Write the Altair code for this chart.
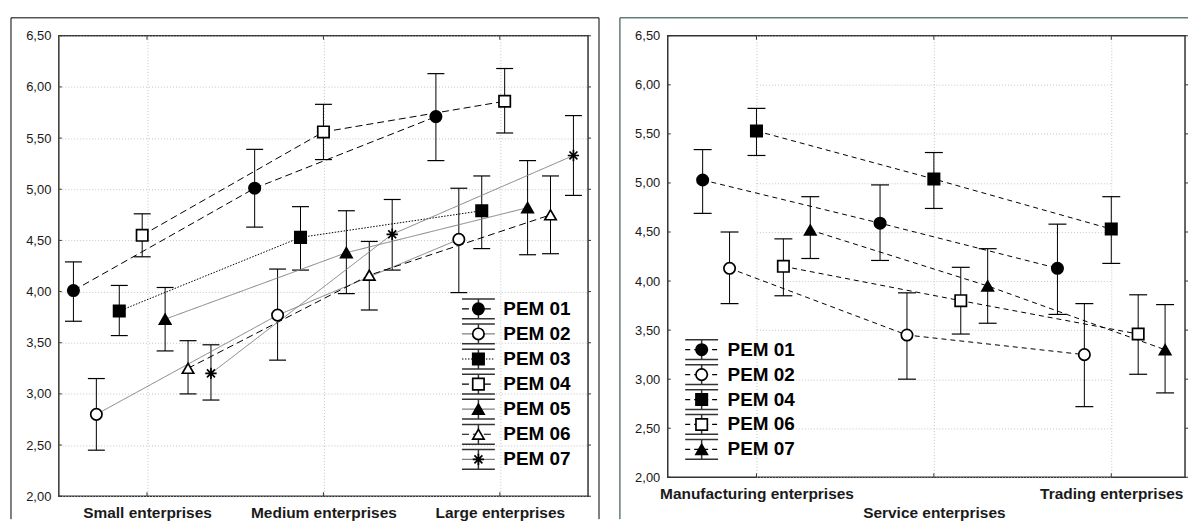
import altair as alt
import pandas as pd

# ---------------- data: left panel (enterprise size) ----------------
cats_L = ["Small enterprises", "Medium enterprises", "Large enterprises"]
series_L = ["PEM 01", "PEM 02", "PEM 03", "PEM 04", "PEM 05", "PEM 06", "PEM 07"]
mean_L = [
    [4.01, 5.01, 5.71],
    [2.80, 3.77, 4.51],
    [3.81, 4.53, 4.79],
    [4.55, 5.56, 5.86],
    [3.73, 4.38, 4.82],
    [3.25, 4.16, 4.75],
    [3.20, 4.56, 5.33],
]
lo_L = [
    [3.71, 4.63, 5.28],
    [2.45, 3.33, 3.99],
    [3.57, 4.21, 4.42],
    [4.34, 5.29, 5.55],
    [3.42, 3.98, 4.36],
    [3.00, 3.82, 4.37],
    [2.94, 4.21, 4.94],
]
hi_L = [
    [4.29, 5.39, 6.13],
    [3.15, 4.22, 5.01],
    [4.06, 4.83, 5.13],
    [4.76, 5.83, 6.18],
    [4.04, 4.79, 5.28],
    [3.52, 4.49, 5.13],
    [3.48, 4.90, 5.72],
]

# ---------------- data: right panel (enterprise type) ----------------
cats_R = ["Manufacturing enterprises", "Service enterprises", "Trading enterprises"]
series_R = ["PEM 01", "PEM 02", "PEM 04", "PEM 06", "PEM 07"]
mean_R = [
    [5.03, 4.59, 4.13],
    [4.13, 3.45, 3.25],
    [5.53, 5.04, 4.53],
    [4.15, 3.80, 3.46],
    [4.52, 3.95, 3.30],
]
lo_R = [
    [4.69, 4.21, 3.66],
    [3.77, 3.00, 2.72],
    [5.28, 4.74, 4.18],
    [3.85, 3.46, 3.05],
    [4.23, 3.57, 2.86],
]
hi_R = [
    [5.34, 4.98, 4.58],
    [4.50, 3.88, 3.77],
    [5.76, 5.31, 4.86],
    [4.43, 4.14, 3.86],
    [4.86, 4.33, 3.76],
]

y_ticks = [2.0, 2.5, 3.0, 3.5, 4.0, 4.5, 5.0, 5.5, 6.0, 6.5]

# ---------------- styles ----------------
ASTER = "M-1,0H1M0,-1V1M-0.7,-0.7L0.7,0.7M-0.7,0.7L0.7,-0.7"
CAP = "M-1,0H1"
LEG_CAPS = "M-1,-0.6H1M-1,0.6H1M0,-0.6V0.6"
FONT = "Liberation Sans"
TICK_COLOR = "#333333"

shape_L = ["circle", "circle", "square", "square", "triangle-up", "triangle-up", ASTER]
fill_L = ["black", "white", "black", "white", "black", "white", "black"]
size_L = [130, 130, 130, 130, 130, 130, 190]
dash_L = [[7, 4], [1, 0], [1.5, 1.5], [7, 4], [1, 0], [7, 4], [1, 0]]
color_L = ["black", "#808080", "black", "black", "#808080", "black", "#808080"]

shape_R = ["circle", "circle", "square", "square", "triangle-up"]
fill_R = ["black", "white", "black", "white", "black"]
size_R = [130, 130, 130, 130, 130]
dash_R = [[5, 4]] * 5
color_R = ["black"] * 5


def long_table(cats, series, mean, lo, hi):
    rows = []
    for i, s in enumerate(series):
        for j, c in enumerate(cats):
            rows.append({"series": s, "cat": c, "mean": mean[i][j],
                         "lo": lo[i][j], "hi": hi[i][j]})
    return pd.DataFrame(rows)


def xscale(cats, pad, rng):
    if rng is None:
        return alt.Scale(type="point", padding=pad, domain=cats)
    return alt.Scale(type="point", padding=0, domain=cats, range=rng)


def panel(cats, series, mean, lo, hi, shapes, fills, sizes, dashes, colors,
          width, height, off_half, axis_pad, data_pad, x_range, cap_size,
          leg_range, leg_x, text_x, frame_right, frame_color, side_rule,
          label_expr=None):
    df = long_table(cats, series, mean, lo, hi)
    one = pd.DataFrame({"a": [0]})
    cdf = pd.DataFrame({"cat": cats})
    ydf = pd.DataFrame({"v": y_ticks})

    xaxis_kw = dict(title=None, labelAngle=0, grid=True, labelOverlap=False,
                    labelLineHeight=19, labelLimit=400)
    if label_expr:
        xaxis_kw["labelExpr"] = label_expr
    X_axis = alt.X("cat:N", scale=xscale(cats, axis_pad, x_range),
                   axis=alt.Axis(**xaxis_kw))
    X = alt.X("cat:N", scale=xscale(cats, data_pad, x_range), axis=None)
    XO = alt.XOffset("series:N", scale=alt.Scale(type="point", padding=0,
                                                 domain=series,
                                                 range=[-off_half, off_half]))
    ysc = alt.Scale(domain=[2, 6.5], nice=False, zero=False)
    yax = alt.Axis(title=None, values=y_ticks, grid=True,
                   labelExpr="replace(format(datum.value, '.2f'), '.', ',')")

    shape_enc = alt.Shape("series:N", scale=alt.Scale(domain=series, range=shapes), legend=None)
    fill_enc = alt.Fill("series:N", scale=alt.Scale(domain=series, range=fills), legend=None)
    size_enc = alt.Size("series:N", scale=alt.Scale(domain=series, range=sizes), legend=None)
    color_enc = alt.Color("series:N", scale=alt.Scale(domain=series, range=colors), legend=None)
    dash_enc = alt.StrokeDash("series:N", scale=alt.Scale(domain=series, range=dashes), legend=None)

    # frame around the panel (runs off the bottom of the picture)
    fr = alt.Chart(one).mark_rule(color=frame_color, strokeWidth=1)
    frames = [
        fr.encode(x=alt.value(-48), y=alt.value(-18), y2=alt.value(485)),
        fr.encode(x=alt.value(-48), x2=alt.value(frame_right), y=alt.value(-18)),
    ]
    if side_rule:
        frames.append(fr.encode(x=alt.value(frame_right), y=alt.value(-18), y2=alt.value(485)))

    base = alt.Chart(df)
    axis_layer = base.mark_point(opacity=0, size=1).encode(
        x=X_axis, y=alt.Y("mean:Q", scale=ysc, axis=yax))
    # small tick marks along the plot border
    tk = alt.Chart(cdf).mark_rule(color=TICK_COLOR, strokeWidth=1)
    top_ticks = tk.encode(x=X_axis, y=alt.value(0), y2=alt.value(4))
    bot_ticks = tk.encode(x=X_axis, y=alt.value(height - 4), y2=alt.value(height))
    axis_group = alt.layer(axis_layer, top_ticks, bot_ticks)

    yk = alt.Chart(ydf).mark_rule(color=TICK_COLOR, strokeWidth=1)
    left_ticks = yk.encode(y=alt.Y("v:Q", scale=ysc, axis=yax),
                           x=alt.value(0), x2=alt.value(3))
    right_ticks = yk.encode(y=alt.Y("v:Q", scale=ysc, axis=yax),
                            x=alt.value(width), x2=alt.value(width + 3))

    bars = base.mark_rule(color="black", strokeWidth=1).encode(
        x=X, xOffset=XO, y=alt.Y("lo:Q", scale=ysc, axis=yax), y2="hi:Q")
    cap_lo = base.mark_point(shape=CAP, size=cap_size, stroke="black", strokeWidth=1.2,
                             opacity=1, filled=False).encode(
        x=X, xOffset=XO, y=alt.Y("lo:Q", scale=ysc, axis=yax))
    cap_hi = base.mark_point(shape=CAP, size=cap_size, stroke="black", strokeWidth=1.2,
                             opacity=1, filled=False).encode(
        x=X, xOffset=XO, y=alt.Y("hi:Q", scale=ysc, axis=yax))
    lines = base.mark_line(strokeWidth=1).encode(
        x=X, xOffset=XO, y=alt.Y("mean:Q", scale=ysc, axis=yax),
        color=color_enc, strokeDash=dash_enc, detail="series:N")
    pts = base.mark_point(stroke="black", strokeWidth=1.7, opacity=1).encode(
        x=X, xOffset=XO, y=alt.Y("mean:Q", scale=ysc, axis=yax),
        shape=shape_enc, fill=fill_enc, size=size_enc)

    data_layers = alt.layer(bars, cap_lo, cap_hi, lines, pts)
    main = alt.layer(*frames, left_ticks, right_ticks, axis_group,
                     data_layers).resolve_scale(x="independent")

    # custom legend (symbol with error bar, line and marker)
    ldf = pd.DataFrame({"series": series})
    LY = alt.Y("series:N", scale=alt.Scale(type="point", padding=0, domain=series,
                                           range=leg_range), axis=None)
    lb = alt.Chart(ldf)
    leg_caps = lb.mark_point(shape=LEG_CAPS, size=1089, stroke="#333333", strokeWidth=1.5,
                             opacity=1, filled=False).encode(x=alt.value(leg_x), y=LY)
    leg_line = lb.mark_point(shape=CAP, size=1089, strokeWidth=1.2, opacity=1,
                             filled=False).encode(x=alt.value(leg_x), y=LY,
                                                  color=color_enc, strokeDash=dash_enc)
    leg_pts = lb.mark_point(stroke="black", strokeWidth=1.7, opacity=1).encode(
        x=alt.value(leg_x), y=LY, shape=shape_enc, fill=fill_enc, size=size_enc)
    leg_txt = lb.mark_text(align="left", baseline="middle", fontSize=19,
                           fontWeight="bold", font=FONT, color="black").encode(
        x=alt.value(text_x), y=LY, text="series:N")
    legend = alt.layer(leg_caps, leg_line, leg_pts, leg_txt)

    return alt.layer(main, legend).resolve_scale(y="independent").properties(
        width=width, height=height)


left = panel(cats_L, series_L, mean_L, lo_L, hi_L, shape_L, fill_L, size_L, dash_L, color_L,
             width=531, height=462, off_half=69, axis_pad=0.5, data_pad=0.46,
             x_range=None, cap_size=289,
             leg_range=[274, 425], leg_x=421, text_x=446,
             frame_right=542, frame_color="#000000", side_rule=True)

right = panel(cats_R, series_R, mean_R, lo_R, hi_R, shape_R, fill_R, size_R, dash_R, color_R,
              width=519, height=443, off_half=54, axis_pad=0, data_pad=0,
              x_range=[89, 445], cap_size=324,
              leg_range=[315, 415], leg_x=34, text_x=60,
              frame_right=522, frame_color="#163c38", side_rule=False,
              label_expr="datum.label == 'Service enterprises' ? ['', datum.label] : datum.label")

chart = alt.hconcat(left, right, spacing=17).resolve_scale(
    x="independent", y="independent", shape="independent", fill="independent",
    color="independent", strokeDash="independent", xOffset="independent",
    size="independent"
).properties(
    padding={"left": 1, "top": 7, "right": 0, "bottom": 0}
).configure(
    font=FONT
).configure_view(
    stroke="#333333", strokeWidth=1.5
).configure_axis(
    domain=False, ticks=False, gridColor="#c4c4c4", gridDash=[1, 2], gridWidth=1,
    labelFont=FONT, labelColor="#1a1a1a"
).configure_axisY(
    labelFontSize=13, labelPadding=8
).configure_axisX(
    labelFontSize=15.5, labelFontWeight="bold", labelPadding=9
)

chart.save("out.html", embed_options={"renderer": "svg", "actions": False})
